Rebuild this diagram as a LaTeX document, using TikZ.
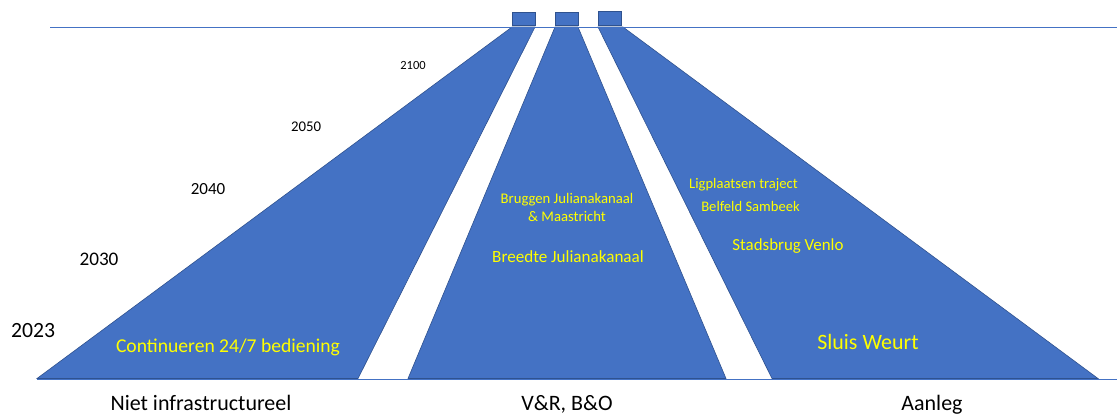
\documentclass[tikz,border=0pt]{standalone}
\usepackage{fontspec}
\setmainfont{Carlito}
\definecolor{shapeblue}{HTML}{4472C4}
\definecolor{edgeblue}{HTML}{2F528F}
\definecolor{lineblue}{HTML}{4472C4}
\definecolor{txtyellow}{HTML}{FFFF00}
\begin{document}
\begin{tikzpicture}[x=1pt,y=-1pt,
  band/.style={fill=shapeblue,draw=edgeblue,line width=0.6pt,line join=miter},
  topbox/.style={fill=shapeblue,draw=edgeblue,line width=0.8pt},
  rule/.style={draw=lineblue,line width=1pt},
  yr/.style={inner sep=0pt,text=black},
  inlbl/.style={inner sep=0pt,text=txtyellow,align=center},
  btm/.style={inner sep=0pt,text=black}]
\useasboundingbox (0,0) rectangle (1117,416);
% bands
\draw[band] (512,27) -- (535,27) -- (358,378.5) -- (37,378.5) -- cycle;
\draw[band] (555,27) -- (578,27) -- (726,378.5) -- (408,378.5) -- cycle;
\draw[band] (598,27) -- (623,27) -- (1098,378.5) -- (772,378.5) -- cycle;
% top boxes
\draw[topbox] (512.5,12) rectangle (535,25);
\draw[topbox] (555,12) rectangle (578,25);
\draw[topbox] (598.5,11) rectangle (621,25);
% rules
\coordinate (tl) at (50,27.3);
\coordinate (tr) at (1117,27.3);
\coordinate (bl) at (37,379);
\coordinate (br) at (1117,379);
\draw[rule] (tl) -- (tr);
\draw[rule] (bl) -- (br);
% years
\node[yr,font=\fontsize{12.5}{14}\selectfont] (y2100) at (413,65) {2100};
\node[yr,font=\fontsize{14.8}{17}\selectfont] (y2050) at (306,127) {2050};
\node[yr,font=\fontsize{17}{20}\selectfont] (y2040) at (208,189) {2040};
\node[yr,font=\fontsize{19.2}{22}\selectfont] (y2030) at (99,259) {2030};
\node[yr,font=\fontsize{21.7}{25}\selectfont] (y2023) at (33,331) {2023};
% inner labels
\node[inlbl,font=\fontsize{19.6}{23}\selectfont] (cont) at (228,347) {Continueren 24/7 bediening};
\node[inlbl,font=\fontsize{14.7}{17.5}\selectfont] (brug) at (567,207.5) {Bruggen Julianakanaal\\\& Maastricht};
\node[inlbl,font=\fontsize{17.1}{20}\selectfont] (breed) at (568,257) {Breedte Julianakanaal};
\node[inlbl,font=\fontsize{14.6}{17}\selectfont] (lig) at (743.5,185) {Ligplaatsen traject};
\node[inlbl,font=\fontsize{14.6}{17}\selectfont] (belf) at (750.5,206) {Belfeld Sambeek};
\node[inlbl,font=\fontsize{16.9}{20}\selectfont] (stad) at (788,246) {Stadsbrug Venlo};
\node[inlbl,font=\fontsize{21.9}{25}\selectfont] (sluis) at (868,342) {Sluis Weurt};
% bottom labels
\node[btm,font=\fontsize{22}{26}\selectfont,anchor=base] (niet) at (201,410) {Niet infrastructureel};
\node[btm,font=\fontsize{22}{26}\selectfont,anchor=base] (vr) at (567,410) {V\&R, B\&O};
\node[btm,font=\fontsize{22}{26}\selectfont,anchor=base] (aan) at (932,410) {Aanleg};
\end{tikzpicture}
\end{document}
